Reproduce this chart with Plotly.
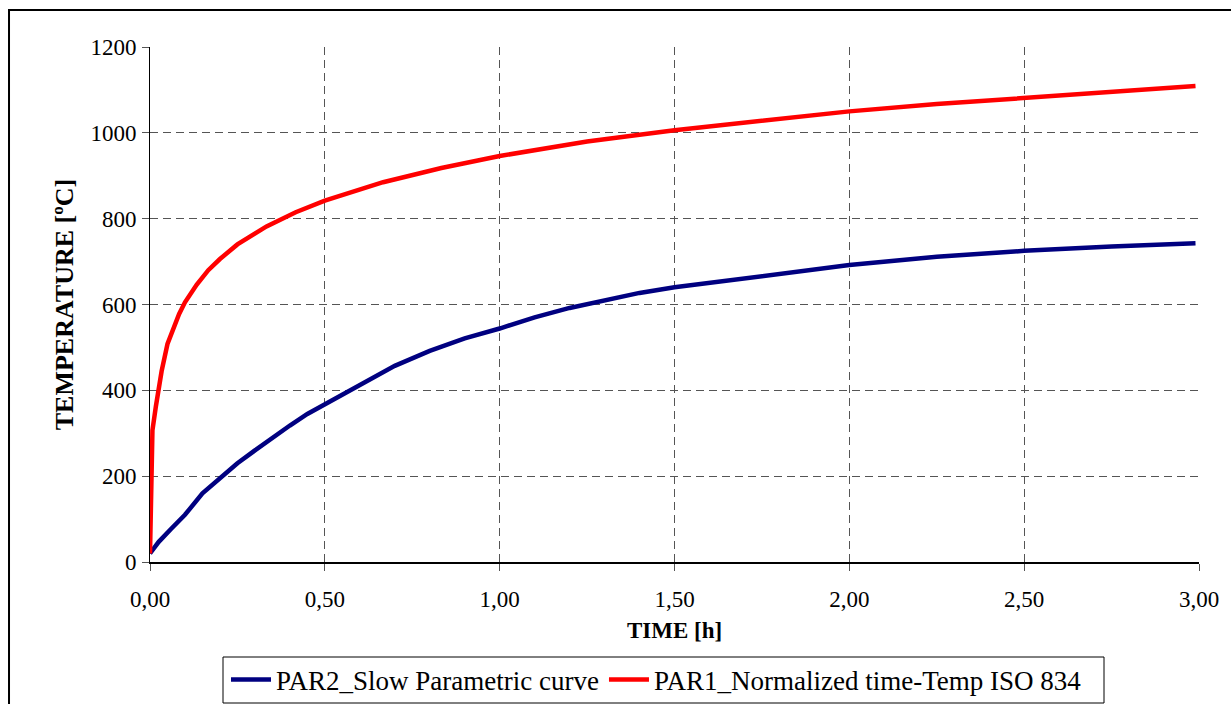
import plotly.graph_objects as go

# ---- data ----
time_par2_h = [0.0, 0.025, 0.06, 0.10, 0.15, 0.20, 0.25, 0.30, 0.35, 0.40, 0.45, 0.50,
               0.60, 0.70, 0.80, 0.90, 1.00, 1.10, 1.20, 1.30, 1.40, 1.50, 1.75, 2.00,
               2.25, 2.50, 2.75, 2.99]
temp_par2 = [20, 47, 77, 110, 160, 196, 230, 260, 290, 318, 345, 368,
             414, 457, 492, 521, 544, 570, 592, 609, 627, 640, 666, 692,
             711, 725, 735, 743]

time_par1_h = [0.0, 0.003, 0.007, 0.0167, 0.0333, 0.05, 0.0667, 0.0833, 0.10, 0.1333,
               0.1667, 0.20, 0.25, 0.3333, 0.4167, 0.50, 0.6667, 0.8333, 1.00, 1.25,
               1.50, 1.75, 2.00, 2.25, 2.50, 2.75, 2.99]
temp_par1 = [20, 199, 307, 362, 445, 508, 546, 578, 605, 646,
             680, 706, 740, 782, 815, 842, 885, 918, 946, 980,
             1006, 1029, 1050, 1067, 1082, 1097, 1109]

series_names = ["PAR2_Slow Parametric curve", "PAR1_Normalized time-Temp ISO 834"]
series_colors = ["#000080", "#FF0000"]

x_tick_vals = [0.0, 0.5, 1.0, 1.5, 2.0, 2.5, 3.0]
x_tick_labels = ["0,00", "0,50", "1,00", "1,50", "2,00", "2,50", "3,00"]
y_tick_vals = [0, 200, 400, 600, 800, 1000, 1200]
y_tick_labels = ["0", "200", "400", "600", "800", "1000", "1200"]

x_title = "TIME [h]"
y_title = "TEMPERATURE [ºC]"

FONT = "Liberation Serif"

fig = go.Figure()
fig.add_trace(go.Scatter(x=time_par2_h, y=temp_par2, mode="lines", name=series_names[0],
                         line=dict(color=series_colors[0], width=4.5)))
fig.add_trace(go.Scatter(x=time_par1_h, y=temp_par1, mode="lines", name=series_names[1],
                         line=dict(color=series_colors[1], width=4.5)))

grid_col = "#555555"
fig.update_xaxes(
    range=[0, 3], tickvals=x_tick_vals, ticktext=x_tick_labels,
    showgrid=True, gridcolor=grid_col, gridwidth=1, griddash="8px,5px",
    showline=True, linecolor="black", linewidth=2, mirror=False,
    ticks="outside", ticklen=7, tickcolor=grid_col, tickwidth=1,
    ticklabelstandoff=8,
    tickfont=dict(family=FONT, size=23, color="black"),
    title=dict(text="<b>" + x_title + "</b>", font=dict(family=FONT, size=23, color="black"),
               standoff=11),
    zeroline=False, automargin=False,
)
fig.update_yaxes(
    range=[0, 1200], tickvals=y_tick_vals, ticktext=y_tick_labels,
    showgrid=True, gridcolor=grid_col, gridwidth=1, griddash="8px,5px",
    showline=True, linecolor="black", linewidth=1, mirror=False,
    ticks="outside", ticklen=7, tickcolor=grid_col, tickwidth=1,
    ticklabelstandoff=1,
    tickfont=dict(family=FONT, size=23, color="black"),
    title=dict(text="<b>" + y_title + "</b>", font=dict(family=FONT, size=26, color="black"),
               standoff=9),
    zeroline=False, automargin=False,
)

# outer chart border (extends beyond the picture at right and bottom)
fig.add_shape(type="rect", xref="paper", yref="paper",
              x0=-0.1344, x1=1.06, y0=-0.40, y1=1.0718,
              line=dict(color="black", width=2), fillcolor="rgba(0,0,0,0)", layer="below")
# legend frame
fig.add_shape(type="rect", xref="paper", yref="paper",
              x0=(223 - 150) / 1049, x1=(1104 - 150) / 1049,
              y0=(562 - 703) / 515, y1=(562 - 657) / 515,
              line=dict(color="black", width=1), fillcolor="white", layer="below")

fig.update_layout(
    width=1231, height=704,
    margin=dict(l=150, r=32, t=47, b=142, autoexpand=False),
    paper_bgcolor="white", plot_bgcolor="white",
    font=dict(family=FONT, color="black"),
    showlegend=True,
    legend=dict(orientation="h", xref="container", yref="container",
                x=226 / 1231, y=1 - 680 / 704, xanchor="left", yanchor="middle",
                bgcolor="rgba(0,0,0,0)", borderwidth=0,
                font=dict(family=FONT, size=27, color="black"),
                itemwidth=40, tracegroupgap=0),
)

fig.write_html("out.html", config={"displayModeBar": False},
               post_script="document.body.style.margin='0px';")
